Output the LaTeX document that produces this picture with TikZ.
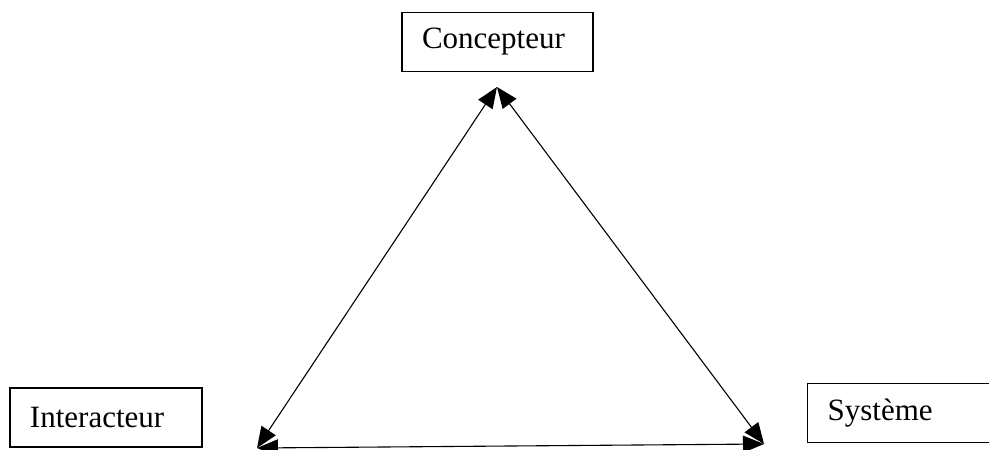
\documentclass[tikz,border=0pt]{standalone}
\usepackage{fontspec}
\setmainfont{Liberation Serif}
\usepackage{tikz}
\usetikzlibrary{arrows.meta}

\begin{document}
\begin{tikzpicture}[x=1pt,y=-1pt,
        boite/.style={draw, line width=1.3pt, rectangle, align=left, inner xsep=20pt,
            minimum height=59pt, font=\fontsize{31}{37}\selectfont},
        fleche/.style={line width=1.1pt, {Triangle[length=21pt,width=17pt]}-{Triangle[length=21pt,width=17pt]}}]
            \useasboundingbox (0,0) rectangle (989,450);
            \node[boite, text width=151pt] (conc) at (497.5,42) {Concepteur};
            \node[boite, text width=152pt] (inter) at (106,417.5) {Interacteur};
            \node[boite, text width=200pt, anchor=west] (sys) at (807,413) {Système};
            \coordinate (A) at (497,87);
            \coordinate (B) at (257,448);
            \coordinate (C) at (764,444);
            \draw[fleche] (B) -- (A);
            \draw[fleche] (A) -- (C);
            \draw[fleche] (B) -- (C);
        \end{tikzpicture}
\end{document}
